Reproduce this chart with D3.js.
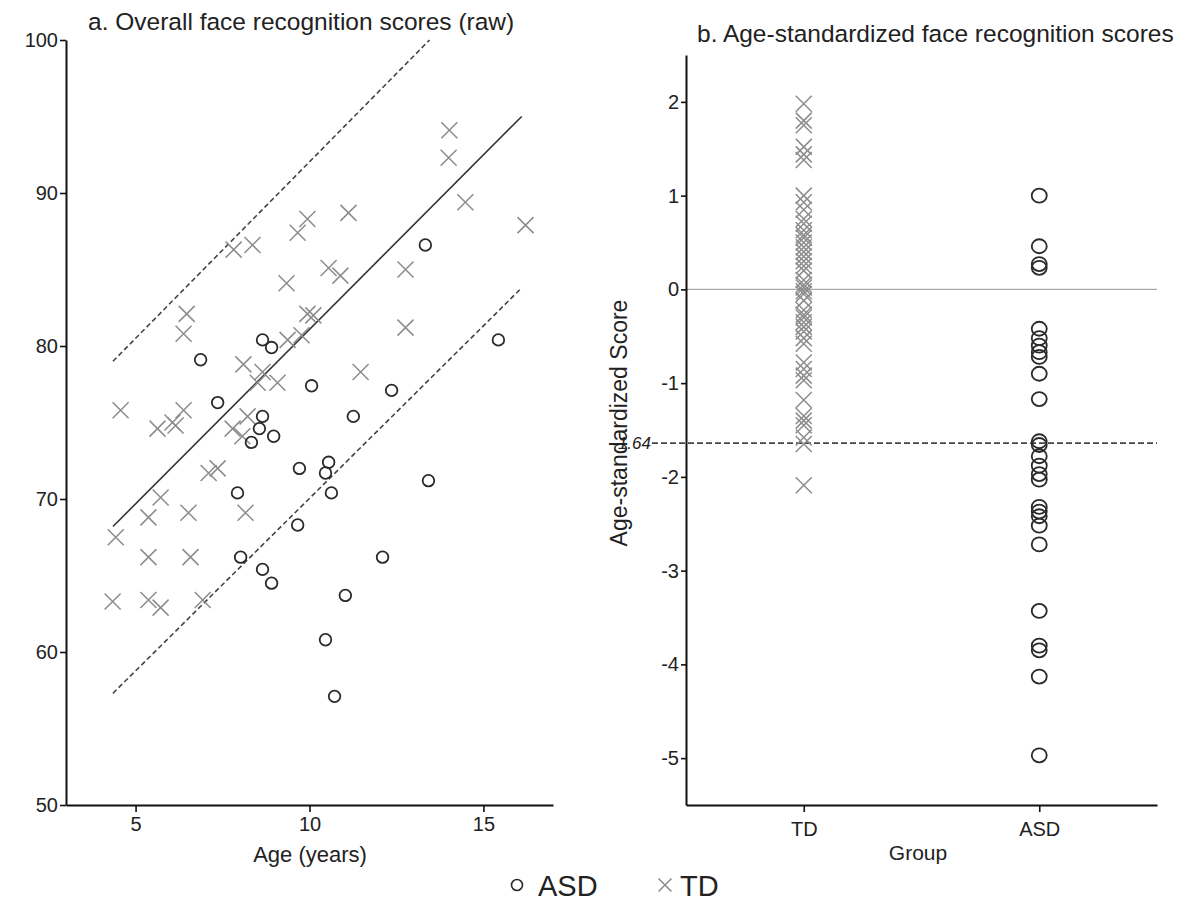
<!DOCTYPE html>
<html>
<head>
<meta charset="utf-8">
<script src="https://cdn.jsdelivr.net/npm/d3@7"></script>
<style>
  body { margin: 0; background: #fff; }
  svg { display: block; font-family: "Liberation Sans", Arial, sans-serif; }
</style>
</head>
<body>
<svg id="chart" width="1192" height="903"></svg>
<script>
// panel a: raw scores by age
const tdAge = [4.34, 4.43, 4.57, 5.37, 5.37, 5.37, 5.72, 5.72, 5.63, 6.06, 6.15, 6.38, 6.47, 6.38, 6.52, 6.58,
  6.93, 7.10, 7.36, 7.79, 8.07, 8.22, 8.16, 8.10, 8.65, 8.51, 9.08, 9.37, 9.77, 9.94, 10.11, 9.34, 10.55,
  10.89, 7.82, 8.36, 9.66, 9.94, 11.12, 11.47, 12.76, 12.76, 14.0, 14.02, 14.48, 16.21];
const tdScore = [63.3, 67.5, 75.8, 68.8, 66.2, 63.4, 70.1, 62.9, 74.6, 75.0, 74.8, 75.8, 82.1, 80.8, 69.1, 66.2,
  63.4, 71.7, 72.0, 74.6, 74.1, 75.4, 69.1, 78.8, 78.3, 77.6, 77.6, 80.4, 80.7, 82.1, 82.0, 84.1, 85.1,
  84.6, 86.3, 86.6, 87.4, 88.3, 88.7, 78.3, 85.0, 81.2, 92.3, 94.1, 89.4, 87.9];
const asdAge = [6.87, 7.36, 7.93, 8.02, 8.33, 8.56, 8.65, 8.97, 8.65, 8.91, 8.65, 8.91, 9.71, 9.66, 10.06,
  10.55, 10.46, 10.63, 11.03, 10.46, 10.72, 11.26, 12.36, 12.10, 13.33, 13.42, 15.43];
const asdScore = [79.1, 76.3, 70.4, 66.2, 73.7, 74.6, 75.4, 74.1, 80.4, 79.9, 65.4, 64.5, 72.0, 68.3, 77.4,
  72.4, 71.7, 70.4, 63.7, 60.8, 57.1, 75.4, 77.1, 66.2, 86.6, 71.2, 80.4];

// regression line and its 1.64 SD band: [age, score] endpoints
const fitLine = [[4.35, 68.2], [16.1, 95.0]];
const upperLine = [[4.35, 79.0], [13.45, 100]];
const lowerLine = [[4.35, 57.3], [16.1, 83.8]];

// panel b: age-standardized scores
const groups = ["TD", "ASD"];
const tdZ = [1.98, 1.80, 1.75, 1.52, 1.44, 1.38, 1.00, 0.93, 0.85, 0.75, 0.70, 0.63, 0.58, 0.55, 0.50, 0.45,
  0.40, 0.35, 0.30, 0.25, 0.20, 0.10, 0.05, 0.02, -0.02, -0.05, -0.12, -0.22, -0.27, -0.30, -0.35, -0.40,
  -0.45, -0.52, -0.58, -0.78, -0.85, -0.92, -0.97, -1.18, -1.35, -1.40, -1.45, -1.58, -1.65, -2.09];
const asdZ = [1.00, 0.46, 0.27, 0.23, -0.42, -0.52, -0.60, -0.67, -0.72, -0.90, -1.17, -1.62, -1.66, -1.78,
  -1.88, -1.97, -2.03, -2.32, -2.37, -2.42, -2.52, -2.72, -3.43, -3.80, -3.85, -4.13, -4.97];
const cutoff = -1.64;

const xTicksA = [5, 10, 15];
const yTicksA = [50, 60, 70, 80, 90, 100];
const yTicksB = [2, 1, 0, -1, -2, -3, -4, -5];

const svg = d3.select("#chart");
svg.append("rect").attr("width", 1192).attr("height", 903).attr("fill", "#fff");

const crossColor = "#8c8c8c";
const circleColor = "#2a2a2a";
const plain = d => String(d);   // hyphen minus like the original

function drawCross(g, cx, cy, s, color, w) {
  g.append("path")
    .attr("d", `M${cx - s},${cy - s}L${cx + s},${cy + s}M${cx - s},${cy + s}L${cx + s},${cy - s}`)
    .attr("stroke", color)
    .attr("stroke-width", w)
    .attr("fill", "none");
}

function styleAxis(g, size) {
  g.select(".domain").attr("stroke", "#111").attr("stroke-width", 2);
  g.selectAll(".tick line").attr("stroke", "#111").attr("stroke-width", 1.6);
  g.selectAll(".tick text").attr("font-size", size).attr("fill", "#222")
    .attr("font-family", "'Liberation Sans', Arial, sans-serif");
}

// ---------- panel a ----------
let xA = d3.scaleLinear().domain([3, 17]).range([66, 553]);
let yA = d3.scaleLinear().domain([50, 100]).range([805, 40]);

let gA = svg.append("g");

gA.append("g")
  .attr("transform", "translate(0,805)")
  .call(d3.axisBottom(xA).tickValues(xTicksA).tickSize(7).tickSizeOuter(0).tickPadding(5).tickFormat(plain))
  .call(g => styleAxis(g, 20));

gA.append("g")
  .attr("transform", "translate(66,0)")
  .call(d3.axisLeft(yA).tickValues(yTicksA).tickSize(6).tickSizeOuter(0).tickPadding(2).tickFormat(plain))
  .call(g => styleAxis(g, 20));

let line = d3.line().x(d => xA(d[0])).y(d => yA(d[1]));

gA.append("path").datum(fitLine).attr("d", line)
  .attr("stroke", "#333").attr("stroke-width", 1.6).attr("fill", "none");
[upperLine, lowerLine].forEach(l =>
  gA.append("path").datum(l).attr("d", line)
    .attr("stroke", "#444").attr("stroke-width", 1.6).attr("stroke-dasharray", "5,3").attr("fill", "none")
);

tdAge.forEach((a, i) => drawCross(gA, xA(a), yA(tdScore[i]), 8, crossColor, 1.5));

asdAge.forEach((a, i) =>
  gA.append("circle")
    .attr("cx", xA(a)).attr("cy", yA(asdScore[i])).attr("r", 5.8)
    .attr("fill", "none").attr("stroke", circleColor).attr("stroke-width", 1.8)
);

gA.append("text").attr("x", 88).attr("y", 30)
  .attr("font-size", 24.5).attr("fill", "#222")
  .text("a. Overall face recognition scores (raw)");

gA.append("text").attr("x", 310).attr("y", 862).attr("text-anchor", "middle")
  .attr("font-size", 22).attr("fill", "#222")
  .text("Age (years)");

// ---------- panel b ----------
let xB = d3.scalePoint().domain(groups).range([686, 1157]).padding(0.5);
let yB = d3.scaleLinear().domain([-5.5, 2.5]).range([805, 55]);

let gB = svg.append("g");

gB.append("line")
  .attr("x1", 686).attr("x2", 1157).attr("y1", yB(0)).attr("y2", yB(0))
  .attr("stroke", "#aaa").attr("stroke-width", 1.3);

gB.append("line")
  .attr("x1", 652).attr("x2", 1157).attr("y1", yB(cutoff)).attr("y2", yB(cutoff))
  .attr("stroke", "#444").attr("stroke-width", 1.6).attr("stroke-dasharray", "6,3");

gB.append("text").attr("x", 651).attr("y", yB(cutoff) + 6).attr("text-anchor", "end")
  .attr("font-size", 17).attr("font-style", "italic").attr("fill", "#222")
  .text(cutoff.toFixed(2));

gB.append("g")
  .attr("transform", "translate(0,805)")
  .call(d3.axisBottom(xB).tickSize(7).tickSizeOuter(0).tickPadding(10))
  .call(g => styleAxis(g, 20));

gB.append("g")
  .attr("transform", "translate(686,0)")
  .call(d3.axisLeft(yB).tickValues(yTicksB).tickSize(5).tickSizeOuter(0).tickPadding(2).tickFormat(plain))
  .call(g => styleAxis(g, 20));

tdZ.forEach(z => drawCross(gB, xB("TD"), yB(z), 8, crossColor, 1.5));

asdZ.forEach(z =>
  gB.append("ellipse")
    .attr("cx", xB("ASD")).attr("cy", yB(z)).attr("rx", 7.5).attr("ry", 7)
    .attr("fill", "none").attr("stroke", circleColor).attr("stroke-width", 1.8)
);

gB.append("text").attr("x", 697).attr("y", 42)
  .attr("font-size", 24.5).attr("fill", "#222")
  .text("b. Age-standardized face recognition scores");

gB.append("text").attr("x", 918).attr("y", 860).attr("text-anchor", "middle")
  .attr("font-size", 21).attr("fill", "#222")
  .text("Group");

gB.append("text")
  .attr("transform", "translate(627,423) rotate(-90)")
  .attr("text-anchor", "middle")
  .attr("font-size", 23).attr("fill", "#222")
  .text("Age-standardized Score");

// ---------- legend ----------
let leg = svg.append("g");
leg.append("circle").attr("cx", 517).attr("cy", 885).attr("r", 5.5)
  .attr("fill", "none").attr("stroke", circleColor).attr("stroke-width", 1.6);
leg.append("text").attr("x", 538).attr("y", 896).attr("font-size", 29).attr("fill", "#222").text("ASD");
drawCross(leg, 665, 885, 6.5, crossColor, 1.5);
leg.append("text").attr("x", 680).attr("y", 896).attr("font-size", 29).attr("fill", "#222").text("TD");
</script>
</body>
</html>
